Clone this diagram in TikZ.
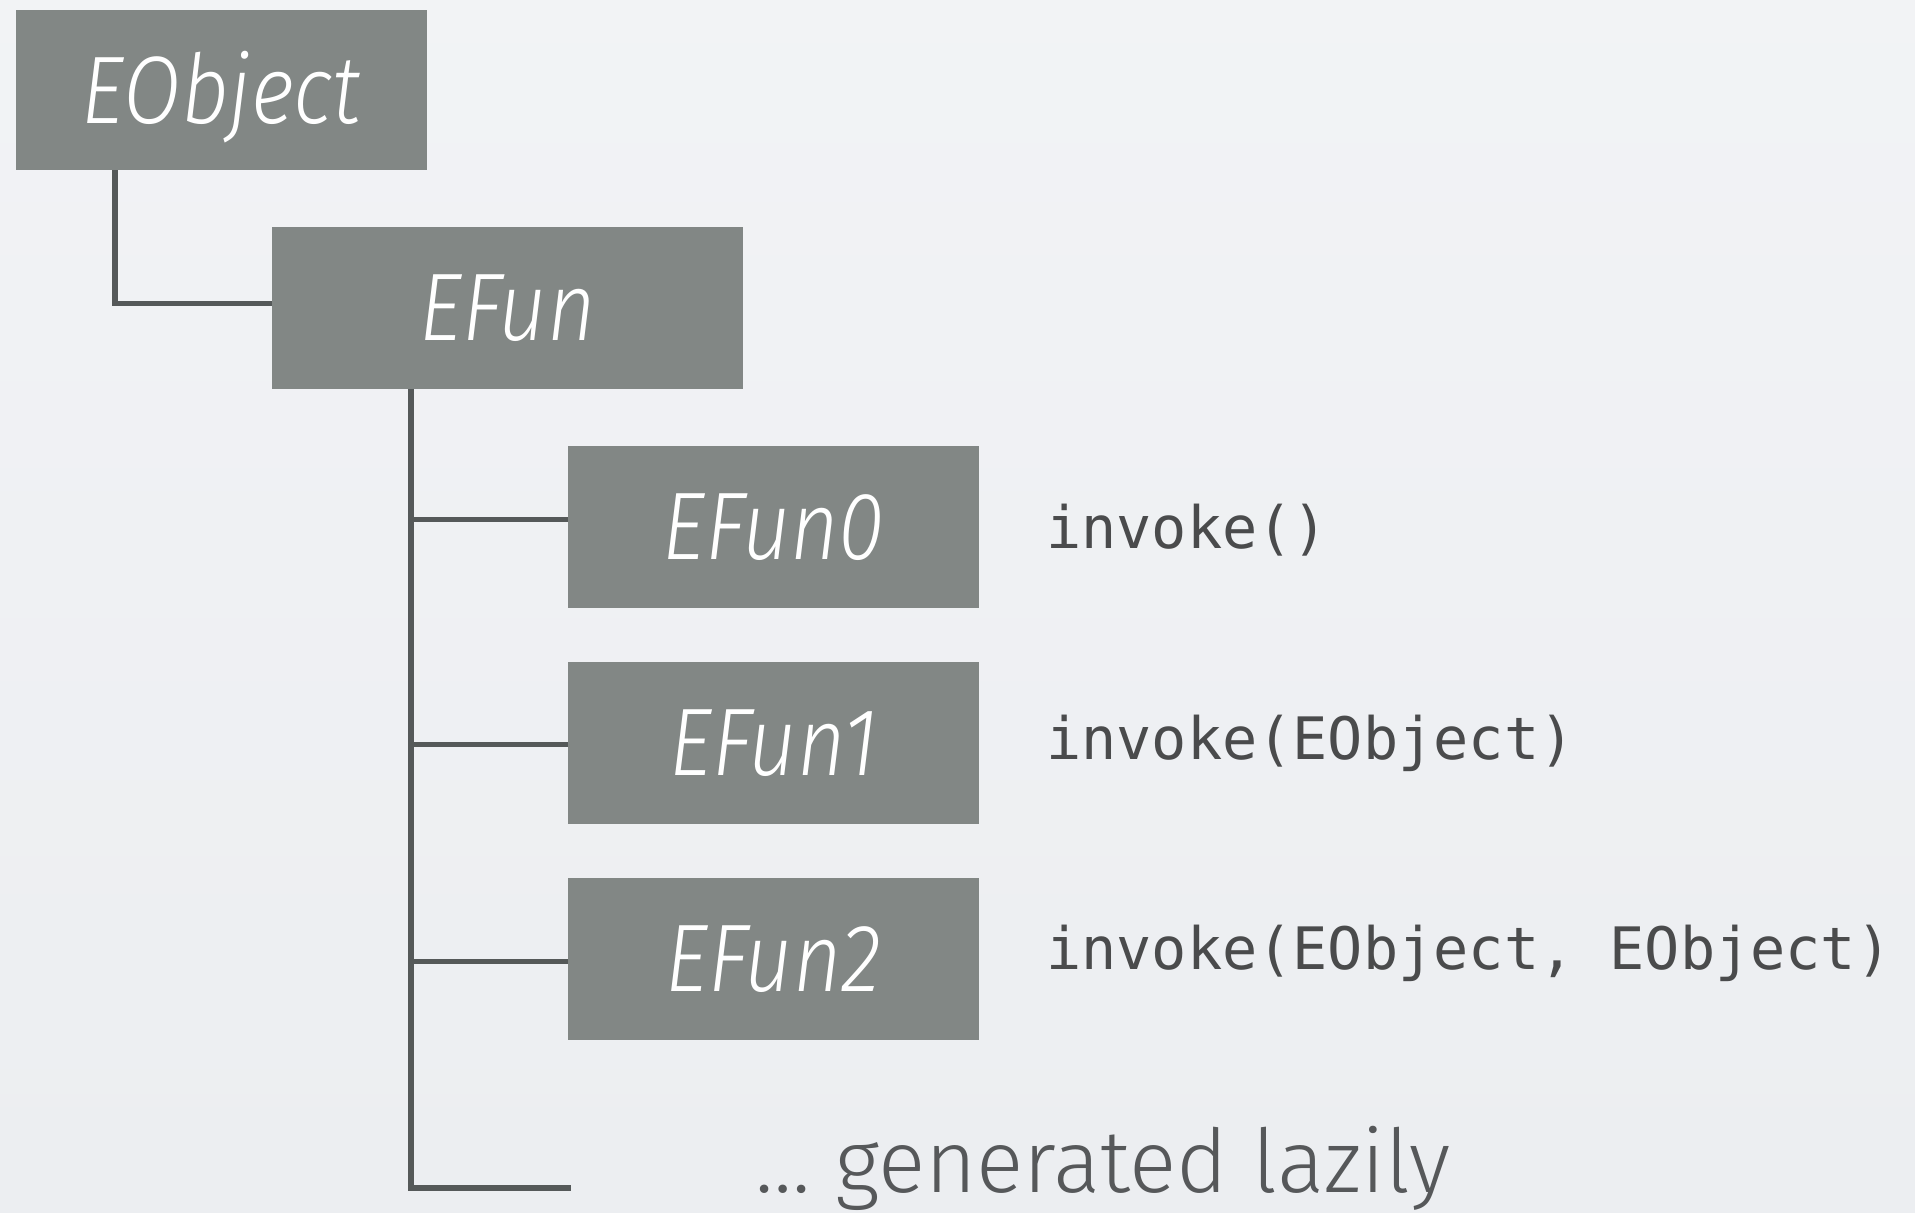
\documentclass[tikz,border=0pt]{standalone}
\usepackage{fontspec}
\newfontfamily\boxfont[FakeStretch=0.87]{Fira Sans Light Italic}
\newfontfamily\notefont{Fira Sans Light}
\newfontfamily\codefont{DejaVu Sans Mono}
\definecolor{bgcol}{HTML}{ECEEF1}
\definecolor{boxcol}{HTML}{828785}
\definecolor{linecol}{HTML}{555959}
\definecolor{textcol}{HTML}{4A4B4C}
\definecolor{notecol}{HTML}{56585A}
\tikzset{
  classbox/.style={fill=boxcol, draw=none, inner sep=0pt, minimum width=411pt,
    minimum height=162pt, text=white, font=\boxfont\fontsize{96}{96}\selectfont,
    text height=66pt, text depth=0pt},
  tree/.style={draw=linecol, line width=5.5pt},
  method/.style={anchor=base west, inner sep=0pt, text=textcol,
    font=\codefont\fontsize{58.5}{58.5}\selectfont},
}
\begin{document}
\begin{tikzpicture}[x=1pt, y=-1pt]
  % canvas
  \shade[top color=bgcol!70!white, bottom color=bgcol, middle color=bgcol!85!white]
    (0,0) rectangle (1915,1213);
  \useasboundingbox (0,0) rectangle (1915,1213);

  % class hierarchy
  \node[classbox, minimum height=160pt] (eobj) at (221.5,90) {EObject};
  \node[classbox, minimum width=471pt] (efun) at (507.5,307.5) {EFun};
  \node[classbox] (efun0) at (773.5,526.5) {EFun0};
  \node[classbox] (efun1) at (773.5,742.5) {EFun1};
  \node[classbox] (efun2) at (773.5,958.5) {EFun2};
  \coordinate (lazyend) at (571,1188);

  % tree connectors
  \draw[tree] ([xshift=99pt]eobj.south west) |- ([yshift=4pt]efun.west);
  \draw[tree] ([xshift=139pt]efun.south west) |- (lazyend);
  \draw[tree] ([xshift=139pt, yshift=7pt]efun.south west |- efun0.west) -- ([yshift=7pt]efun0.west);
  \draw[tree] ([xshift=139pt, yshift=-2pt]efun.south west |- efun1.west) -- ([yshift=-2pt]efun1.west);
  \draw[tree] ([xshift=139pt, yshift=-3pt]efun.south west |- efun2.west) -- ([yshift=-3pt]efun2.west);

  % method signatures
  \node[method] (m0) at (1046,548) {invoke()};
  \node[method] (m1) at (1046,759) {invoke(EObject)};
  \node[method] (m2) at (1046,969) {invoke(EObject, EObject)};

  % trailing note
  \node[anchor=base west, inner sep=0pt, text=notecol,
    font=\notefont\fontsize{88}{88}\selectfont] (lazy) at (755,1192) {… generated lazily};
\end{tikzpicture}
\end{document}
